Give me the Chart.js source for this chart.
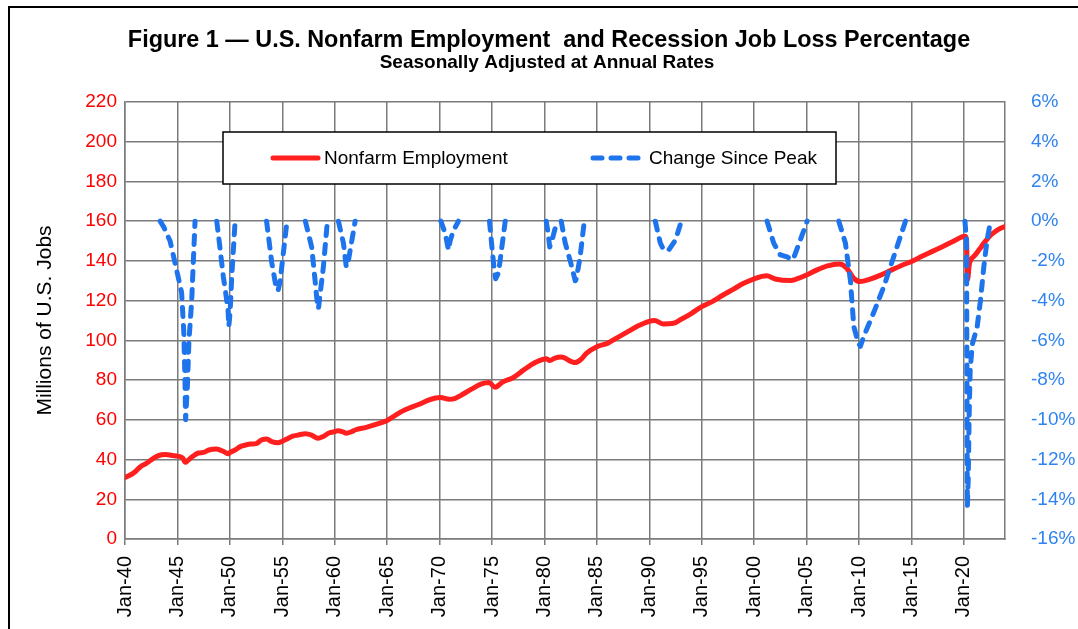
<!DOCTYPE html>
<html>
<head>
<meta charset="utf-8">
<title>U.S. Nonfarm Employment and Recession Job Loss</title>
<script src="https://cdn.jsdelivr.net/npm/chart.js@4.4.1/dist/chart.umd.min.js"></script>
<style>
  html, body { margin: 0; padding: 0; background: #fff; }
  #wrap { position: relative; width: 1078px; height: 629px; overflow: hidden; }
  #frame { position: absolute; left: 8px; top: 6px; width: 1120px; height: 700px;
           border: 2px solid #000; box-sizing: border-box; }
  #chart { position: absolute; left: 0; top: 0; }
</style>
</head>
<body>
<div id="wrap">
  <div id="frame"></div>
  <canvas id="chart" width="1078" height="629"></canvas>
</div>
<script>
'use strict';

// ── Text ──────────────────────────────────────────────────────
const TITLE    = 'Figure 1 \u2014 U.S. Nonfarm Employment  and Recession Job Loss Percentage';
const SUBTITLE = 'Seasonally Adjusted at Annual Rates';
const Y_TITLE  = 'Millions of U.S. Jobs';

// ── Data ──────────────────────────────────────────────────────
// x in decimal years, employment in millions
const empYears = [
  1940.0, 1940.5, 1941.0, 1941.5, 1942.0, 1942.5, 1943.0, 1943.5, 1943.9, 1944.5,
  1945.0, 1945.5, 1945.75, 1946.0, 1946.5, 1947.0, 1947.5, 1948.0, 1948.7, 1949.5,
  1949.85, 1950.0, 1950.5, 1951.0, 1951.5, 1952.0, 1952.5, 1953.0, 1953.5, 1954.0,
  1954.6, 1955.0, 1955.5, 1956.0, 1956.5, 1957.2, 1957.8, 1958.4, 1958.9, 1959.5,
  1959.9, 1960.3, 1960.8, 1961.1, 1961.6, 1962.0, 1963.0, 1964.0, 1965.0, 1965.5,
  1966.0, 1966.5, 1967.0, 1968.0, 1969.0, 1969.6, 1970.1, 1970.9, 1971.5, 1972.0,
  1973.0, 1974.0, 1974.7, 1975.3, 1976.0, 1977.0, 1978.0, 1979.0, 1980.2, 1980.5,
  1981.0, 1981.6, 1982.9, 1983.5, 1984.0, 1985.0, 1986.0, 1987.0, 1988.0, 1989.0,
  1990.5, 1991.3, 1992.3, 1993.0, 1994.0, 1995.0, 1996.0, 1997.0, 1998.0, 1999.0,
  2000.0, 2001.2, 2002.0, 2003.5, 2004.0, 2005.0, 2006.0, 2007.0, 2008.1, 2008.8,
  2009.5, 2010.1, 2011.0, 2012.0, 2013.0, 2014.0, 2015.0, 2016.0, 2017.0, 2018.0,
  2019.0, 2020.1, 2020.25, 2020.33, 2020.42, 2020.5, 2020.67, 2021.0, 2021.5, 2022.0,
  2022.5, 2023.0, 2023.5, 2023.92
];
const empValues = [
  31.0, 32.2, 34.0, 36.5, 38.0, 39.8, 41.5, 42.4, 42.6, 42.0,
  41.7, 40.8, 38.6, 39.6, 41.8, 43.3, 43.6, 44.8, 45.3, 43.8,
  42.9, 43.5, 44.8, 46.5, 47.3, 47.8, 48.0, 49.8, 50.4, 49.0,
  48.4, 49.2, 50.5, 51.8, 52.3, 53.0, 52.3, 50.7, 51.6, 53.5,
  53.9, 54.5, 53.9, 53.3, 54.0, 55.0, 56.2, 57.8, 59.7, 61.3,
  63.0, 64.5, 65.7, 67.7, 70.0, 71.0, 71.2, 70.3, 70.8, 72.2,
  75.3, 78.1, 78.8, 76.4, 79.0, 81.2, 85.0, 88.5, 90.8, 89.8,
  91.1, 91.6, 88.8, 90.5, 93.5, 96.8, 98.5, 101.5, 104.5, 107.5,
  110.0, 108.3, 108.6, 110.5, 113.5, 117.0, 119.5, 122.7, 125.7, 128.7,
  131.0, 132.5, 130.9, 130.1, 130.8, 132.9, 135.5, 137.5, 138.4, 136.5,
  131.2, 129.6, 130.7, 132.7, 135.2, 137.6, 139.7, 142.3, 144.8, 147.3,
  149.9, 152.4, 151.0, 130.4, 133.0, 137.6, 140.6, 142.5, 146.0, 149.6,
  152.7, 154.8, 156.4, 157.3
];

// % change since the pre-recession peak, one run per recession (null = gap)
const lossYears = [
  1943.35, 1943.7, 1944.3, 1944.9, 1945.4, 1945.6, 1945.72, 1945.78, 1945.95, 1946.1, 1946.36, 1946.68, 1947.5,
  1948.75, 1949.07, 1949.38, 1949.6, 1949.83, 1949.9, 1950.02, 1950.18, 1950.5, 1952.0,
  1953.5, 1954.0, 1954.4, 1954.6, 1954.8, 1955.1, 1955.45, 1956.0,
  1957.2, 1957.8, 1958.13, 1958.35, 1958.45, 1958.6, 1958.92, 1959.3, 1959.8,
  1960.35, 1960.83, 1961.1, 1961.3, 1961.95, 1965.0,
  1970.12, 1970.53, 1970.85, 1971.0, 1971.3, 1971.8, 1973.0,
  1974.76, 1974.99, 1975.2, 1975.35, 1975.62, 1975.94, 1976.26, 1978.0,
  1980.17, 1980.35, 1980.5, 1980.75, 1981.0, 1981.25, 1981.4,
  1981.6, 1981.98, 1982.46, 1982.94, 1983.04, 1983.4, 1983.8, 1986.0,
  1990.57, 1991.05, 1991.37, 1991.85, 1992.5, 1993.05, 1996.0,
  2001.23, 2001.86, 2002.5, 2003.14, 2003.6, 2003.8, 2004.4, 2005.05, 2006.0,
  2008.07, 2008.7, 2009.18, 2009.5, 2009.9, 2010.13, 2010.45, 2011.4, 2012.36, 2013.3, 2014.43, 2017.0,
  2020.1, 2020.25, 2020.33, 2020.42, 2020.5, 2020.6, 2020.8, 2021.27, 2021.58, 2021.9, 2022.2, 2022.54
];
const lossValues = [
  0, -0.3, -1.0, -2.4, -3.6, -5.5, -8.0, -10.0, -8.3, -6.0, -4.0, 0, null,
  0, -1.4, -2.8, -3.6, -4.5, -5.3, -4.6, -2.8, 0, null,
  0, -2.1, -3.3, -3.5, -3.0, -1.6, 0, null,
  0, -1.3, -3.0, -4.2, -4.4, -3.7, -2.3, 0, null,
  0, -1.1, -2.3, -2.0, 0, null,
  0, -0.6, -1.45, -1.0, -0.5, 0, null,
  0, -1.3, -2.4, -2.9, -2.6, -1.3, 0, null,
  0, -0.6, -1.3, -0.9, -0.4, 0, null,
  0, -1.1, -2.0, -3.0, -2.9, -1.8, 0, null,
  0, -1.1, -1.45, -1.45, -0.95, 0, null,
  0, -1.1, -1.7, -1.8, -1.95, -1.8, -0.95, 0, null,
  0, -1.1, -3.0, -5.3, -6.1, -6.3, -5.8, -4.6, -3.3, -1.8, 0, null,
  0, -1.0, -14.4, -12.8, -9.8, -7.5, -6.2, -5.3, -4.0, -2.3, -1.0, 0
];

// ── Axis ticks ────────────────────────────────────────────────
const xTickYears  = [1940, 1945, 1950, 1955, 1960, 1965, 1970, 1975, 1980,
                     1985, 1990, 1995, 2000, 2005, 2010, 2015, 2020];
const xTickLabels = ['Jan-40', 'Jan-45', 'Jan-50', 'Jan-55', 'Jan-60', 'Jan-65', 'Jan-70', 'Jan-75', 'Jan-80',
                     'Jan-85', 'Jan-90', 'Jan-95', 'Jan-00', 'Jan-05', 'Jan-10', 'Jan-15', 'Jan-20'];
const X_MIN = 1940, X_MAX = 2023.92;
const JOBS_MIN = 0,  JOBS_MAX = 220, JOBS_STEP = 20;
const PCT_MIN = -16, PCT_MAX = 6,    PCT_STEP = 2;

// ── Styles ────────────────────────────────────────────────────
const FONT  = '"Liberation Sans", Arial, Helvetica, sans-serif';
const RED   = '#ff1f1f';
const BLUE  = '#1e74ec';
const BLUE_TXT = '#2f83f0';
const GRID  = '#7b7b7b';

function zip(xs, ys) { return xs.map((x, i) => ({ x, y: ys[i] })); }

// ── Plugins ───────────────────────────────────────────────────
const headerPlugin = {
  id: 'header',
  afterDraw(chart) {
    const { ctx } = chart;
    ctx.save();
    ctx.fillStyle = '#000';
    ctx.textAlign = 'center';
    ctx.textBaseline = 'middle';
    ctx.font = `bold 23.4px ${FONT}`;
    ctx.fillText(TITLE, 549, 41);
    ctx.font = `bold 19px ${FONT}`;
    ctx.fillText(SUBTITLE, 547, 63);
    ctx.restore();
  },
};

// boxed legend sitting inside the plot, like the Excel original
const boxLegend = {
  id: 'boxLegend',
  afterDraw(chart) {
    const { ctx, chartArea: a } = chart;
    const x0 = a.left + 98, y0 = a.top + 30, w = 613, h = 52;
    const cy = y0 + h / 2;
    ctx.save();
    ctx.fillStyle = '#fff';
    ctx.fillRect(x0, y0, w, h);
    ctx.strokeStyle = '#000';
    ctx.lineWidth = 1.5;
    ctx.strokeRect(x0, y0, w, h);

    const items = [
      { ds: chart.data.datasets[0], x: x0 + 50, len: 45 },
      { ds: chart.data.datasets[1], x: x0 + 370, len: 50 },
    ];
    ctx.font = `19px ${FONT}`;
    ctx.textBaseline = 'middle';
    ctx.textAlign = 'left';
    items.forEach(({ ds, x, len }) => {
      ctx.beginPath();
      ctx.strokeStyle = ds.borderColor;
      ctx.lineWidth = ds.borderWidth;
      ctx.lineCap = ds.borderCapStyle || 'butt';
      ctx.setLineDash(ds.borderDash || []);
      ctx.moveTo(x, cy);
      ctx.lineTo(x + len, cy);
      ctx.stroke();
      ctx.setLineDash([]);
      ctx.fillStyle = '#000';
      ctx.fillText(ds.label, x + len + 6, cy + 1);
    });
    ctx.restore();
  },
};

// ── Chart ─────────────────────────────────────────────────────
Chart.defaults.font.family = FONT;
Chart.defaults.color = '#000';

new Chart(document.getElementById('chart'), {
  type: 'line',
  data: {
    datasets: [
      {
        label: 'Nonfarm Employment',
        data: zip(empYears, empValues),
        yAxisID: 'y',
        borderColor: RED,
        borderWidth: 5,
        borderCapStyle: 'round',
        borderJoinStyle: 'round',
        cubicInterpolationMode: 'monotone',
        pointRadius: 0,
        order: 1,
      },
      {
        label: 'Change Since Peak',
        data: zip(lossYears, lossValues),
        yAxisID: 'y1',
        borderColor: BLUE,
        borderWidth: 5,
        borderDash: [9, 9],
        borderCapStyle: 'round',
        borderJoinStyle: 'round',
        pointRadius: 0,
        spanGaps: false,
        order: 0,
      },
    ],
  },
  options: {
    responsive: false,
    animation: false,
    events: [],
    layout: { padding: { left: 20, top: 102, right: 0, bottom: 0 } },
    plugins: {
      legend: { display: false },
      tooltip: { enabled: false },
    },
    scales: {
      x: {
        type: 'linear',
        min: X_MIN,
        max: X_MAX,
        afterFit: (s) => { s.height = 90; },
        grid: { color: GRID, lineWidth: 1.5, tickLength: 6, drawTicks: true },
        border: { color: GRID, width: 1.5 },
        ticks: {
          stepSize: 5,
          includeBounds: false,
          autoSkip: false,
          minRotation: 90,
          maxRotation: 90,
          padding: 11,
          color: '#000',
          font: { size: 20 },
          callback: (v) => {
            const i = xTickYears.indexOf(v);
            return i >= 0 ? xTickLabels[i] : '';
          },
        },
      },
      y: {
        position: 'left',
        min: JOBS_MIN,
        max: JOBS_MAX,
        afterFit: (s) => { s.width = 105; },
        grid: { color: GRID, lineWidth: 1.5, drawTicks: false },
        border: { color: GRID, width: 1.5 },
        ticks: { stepSize: JOBS_STEP, padding: 8, color: '#ff0000', font: { size: 19 } },
        title: {
          display: true,
          text: Y_TITLE,
          color: '#000',
          font: { size: 21 },
          padding: { top: 13, bottom: 0 },
        },
      },
      y1: {
        position: 'right',
        min: PCT_MIN,
        max: PCT_MAX,
        afterFit: (s) => { s.width = 73; },
        grid: { display: false, drawTicks: false },
        border: { color: GRID, width: 1.5 },
        ticks: {
          stepSize: PCT_STEP,
          padding: 26,
          color: BLUE_TXT,
          font: { size: 19 },
          callback: (v) => v + '%',
        },
      },
    },
  },
  plugins: [headerPlugin, boxLegend],
});
</script>
</body>
</html>
